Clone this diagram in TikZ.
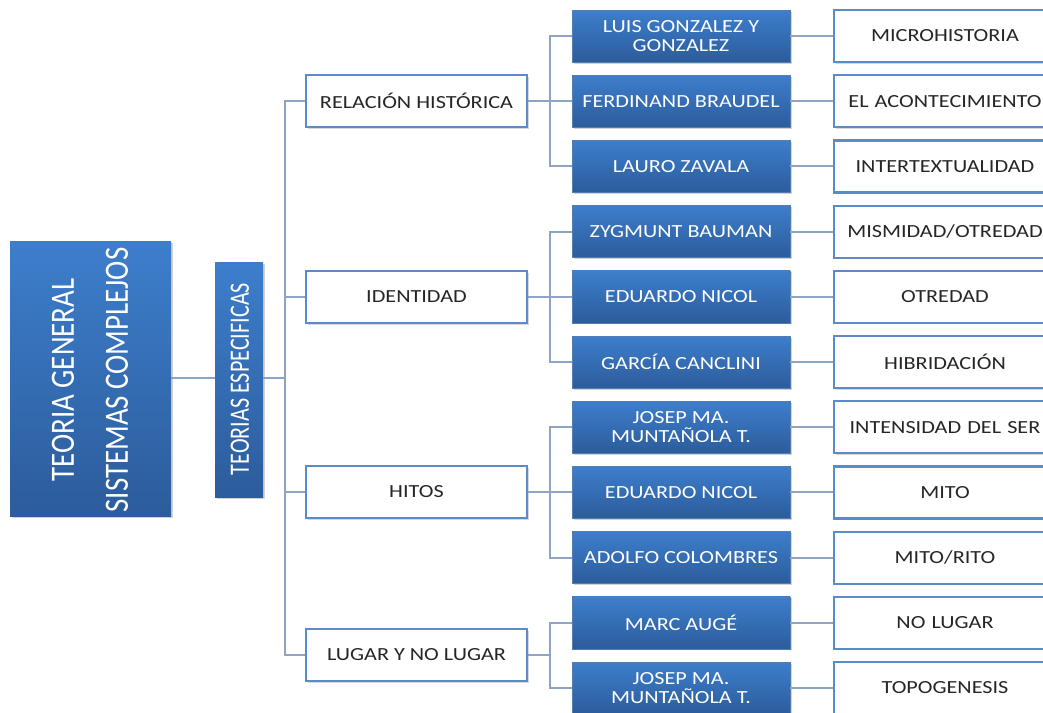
\documentclass[tikz,border=0pt]{standalone}
\usepackage{fontspec}
\setmainfont{Carlito}[FakeStretch=1.2]
\newfontfamily\rotfont{Carlito}[FakeStretch=0.85]
\newfontfamily\rotfontb{Carlito}[FakeStretch=0.79]
\usetikzlibrary{shadows}
\definecolor{btop}{HTML}{3D7ECC}
\definecolor{bbot}{HTML}{2C5C9B}
\definecolor{wborder}{HTML}{5B8BC8}
\definecolor{connc}{HTML}{8EA4C4}
\tikzset{
  bluebox/.style={rectangle, top color=btop, bottom color=bbot, draw=bbot!80, line width=0.5pt,
    minimum width=218pt, minimum height=52pt, text=white, align=center,
    font=\fontsize{18.5}{19.5}\selectfont, inner sep=1pt,
    drop shadow={shadow xshift=1.5pt, shadow yshift=-1.5pt, opacity=0.35}},
  whitebox/.style={rectangle, fill=white, draw=wborder, line width=2.2pt,
    minimum height=52pt, text=black!85, align=center,
    font=\fontsize{18.5}{19}\selectfont, inner sep=1pt,
    drop shadow={shadow xshift=1.5pt, shadow yshift=-1.5pt, opacity=0.3}},
  bigbox/.style={rectangle, top color=btop, bottom color=bbot, draw=none,
    drop shadow={shadow xshift=1.5pt, shadow yshift=-1.5pt, opacity=0.35}},
  rottext/.style={rotate=90, text=white, align=center, inner sep=0pt},
  conn/.style={draw=connc, line width=2pt},
}
\begin{document}
\begin{tikzpicture}[x=1pt,y=-1pt]
\useasboundingbox (0,0) rectangle (1043,712);
\clip (0,0) rectangle (1043,712);
\fill[white] (0,0) rectangle (1043,712);
% root
\node[bigbox, minimum width=161pt, minimum height=275pt] (root) at (90.5,378.5) {};
\node[rottext, font=\rotfont\fontsize{34}{54}\selectfont] (roottxt) at (90,380) {TEORIA GENERAL\\SISTEMAS COMPLEJOS};
\node[bigbox, minimum width=48pt, minimum height=235pt] (te) at (239,379.5) {};
\node[rottext, font=\rotfontb\fontsize{28}{30}\selectfont] (tetxt) at (240,379) {TEORIAS ESPECIFICAS};
\coordinate (tk) at (285,378);
% level 2
\node[whitebox, minimum width=221pt] (l2a) at (416.5,101) {RELACIÓN HISTÓRICA};
\node[whitebox, minimum width=221pt] (l2b) at (416.5,297) {IDENTIDAD};
\node[whitebox, minimum width=221pt] (l2c) at (416.5,492) {HITOS};
\node[whitebox, minimum width=221pt] (l2d) at (416.5,655) {LUGAR Y NO LUGAR};
% level 3
\node[bluebox] (b1) at (681,36) {LUIS GONZALEZ Y\\GONZALEZ};
\node[bluebox] (b2) at (681,101.2) {FERDINAND BRAUDEL};
\node[bluebox] (b3) at (681,166.4) {LAURO ZAVALA};
\node[bluebox] (b4) at (681,231.6) {ZYGMUNT BAUMAN};
\node[bluebox] (b5) at (681,296.8) {EDUARDO NICOL};
\node[bluebox] (b6) at (681,362) {GARCÍA CANCLINI};
\node[bluebox] (b7) at (681,427.2) {JOSEP MA.\\MUNTAÑOLA T.};
\node[bluebox] (b8) at (681,492.4) {EDUARDO NICOL};
\node[bluebox] (b9) at (681,557.6) {ADOLFO COLOMBRES};
\node[bluebox] (b10) at (681,622.8) {MARC AUGÉ};
\node[bluebox] (b11) at (681,688) {JOSEP MA.\\MUNTAÑOLA T.};
% level 4
\begin{scope}[every node/.append style={whitebox, minimum width=222pt, text width=215pt}]
\node (w1) at (945,36) {MICROHISTORIA};
\node (w2) at (945,101.2) {EL ACONTECIMIENTO};
\node (w3) at (945,166.4) {INTERTEXTUALIDAD};
\node (w4) at (945,231.6) {MISMIDAD/OTREDAD};
\node (w5) at (945,296.8) {OTREDAD};
\node (w6) at (945,362) {HIBRIDACIÓN};
\node (w7) at (945,427.2) {INTENSIDAD DEL SER};
\node (w8) at (945,492.4) {MITO};
\node (w9) at (945,557.6) {MITO/RITO};
\node (w10) at (945,622.8) {NO LUGAR};
\node (w11) at (945,688) {TOPOGENESIS};
\end{scope}
% connectors
\draw[conn] (root.east |- tk) -- (te.west |- tk);
\draw[conn] (te.east |- tk) -- (tk);
\foreach \n in {l2a,l2b,l2c,l2d} \draw[conn] (\n.west) -| (tk);
\foreach \p/\c in {l2a/b1,l2a/b2,l2a/b3,l2b/b4,l2b/b5,l2b/b6,l2c/b7,l2c/b8,l2c/b9,l2d/b10,l2d/b11}
  \draw[conn] (\p.east) -- ++(22,0) |- (\c.west);
\foreach \i in {1,...,11} \draw[conn] (b\i.east) -- (w\i.west);
\end{tikzpicture}
\end{document}
